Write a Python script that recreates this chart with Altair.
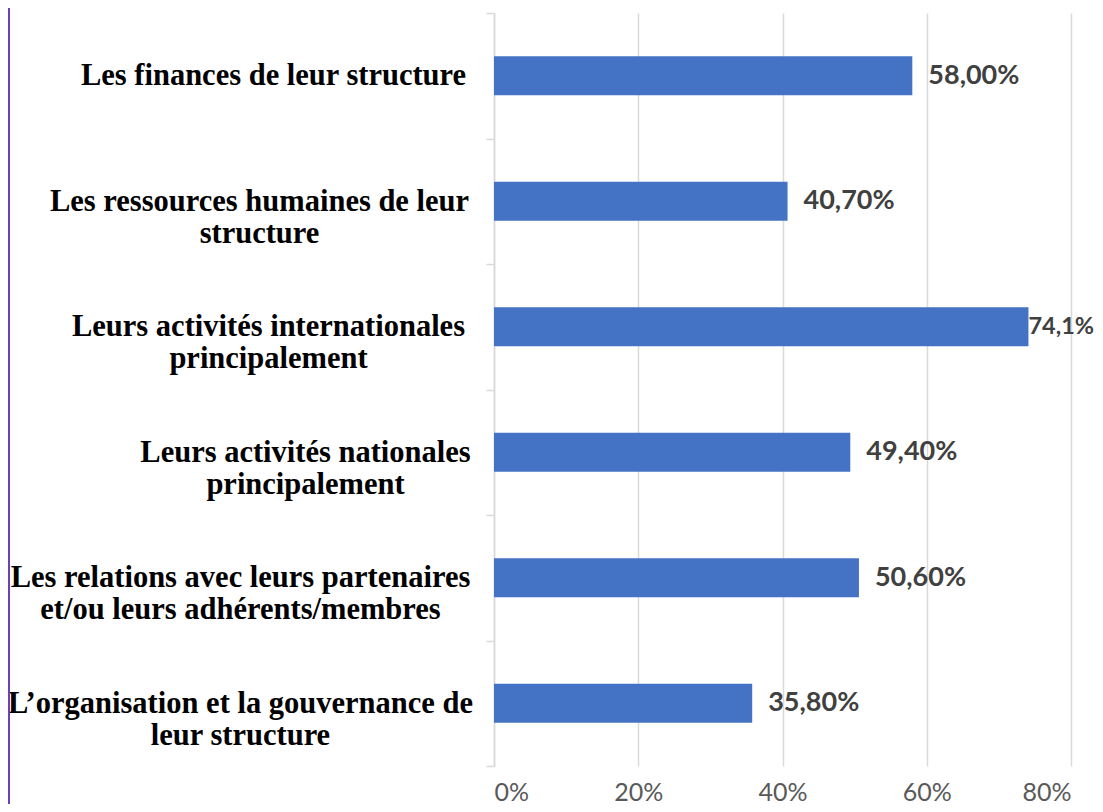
import altair as alt
import pandas as pd

categories = [
    "Les finances de leur structure",
    "Les ressources humaines de leur|structure",
    "Leurs activités internationales|principalement",
    "Leurs activités nationales|principalement",
    "Les relations avec leurs partenaires|et/ou leurs adhérents/membres",
    "L’organisation et la gouvernance de|leur structure",
]
values = [58.0, 40.7, 74.1, 49.4, 50.6, 35.8]
value_labels = ["58,00%", "40,70%", "74,1%", "49,40%", "50,60%", "35,80%"]
x_ticks = [0, 20, 40, 60, 80]

# label block centre offsets (styling only)
label_pad = [213, 227, 218, 181, 246, 246]

df = pd.DataFrame({"cat": categories, "val": values, "lab": value_labels})

pad_cond = [
    {"test": f"datum.value === {c!r}".replace("'", '"'), "value": p}
    for c, p in zip(categories, label_pad)
]

y_enc = alt.Y(
    "cat:N",
    sort=categories,
    scale=alt.Scale(paddingInner=0, paddingOuter=0),
    axis=alt.Axis(
        title=None,
        labelExpr="split(datum.label, '|')",
        labelFont="Liberation Serif",
        labelFontWeight="bold",
        labelFontSize=30.5,
        labelColor="#000000",
        labelAlign="center",
        labelBaseline="middle",
        labelLineHeight=32,
        labelPadding={"condition": pad_cond, "value": 220},
        labelLimit=0,
        tickBand="extent",
        tickColor="#d9d9d9",
        tickSize=8,
        tickWidth=1.5,
        domainColor="#d9d9d9",
        domainWidth=1.5,
        grid=False,
    ),
)

x_enc = alt.X(
    "val:Q",
    scale=alt.Scale(domain=[0, 80], nice=False),
    axis=alt.Axis(
        title=None,
        values=x_ticks,
        labelExpr="datum.value + '%'",
        labelFont="Lato",
        labelFontSize=25,
        labelColor="#595959",
        labelBaseline="bottom",
        labelPadding=39,
        domain=False,
        ticks=False,
        grid=True,
        gridColor="#d9d9d9",
        gridWidth=1.5,
    ),
)

base = alt.Chart(df)

bars = base.mark_bar(size=39, color="#4472C4").encode(x=x_enc, y=y_enc)

text_style = dict(
    align="left",
    baseline="middle",
    font="Lato",
    fontWeight="bold",
    fontSize=27,
    color="#404040",
)

labels = base.transform_filter("datum.val < 70").mark_text(dx=16, **text_style).encode(
    x="val:Q", y=alt.Y("cat:N", sort=categories), text="lab:N"
)
labels_top = (
    base.transform_filter("datum.val >= 70")
    .mark_text(dx=0, **{**text_style, "fontSize": 23.5})
    .encode(x="val:Q", y=alt.Y("cat:N", sort=categories), text="lab:N")
)

border = alt.Chart(df).mark_rule(color="#7040B0", strokeWidth=2).encode(
    x=alt.value(-485), y=alt.value(-5), y2=alt.value(795)
)

chart = (
    alt.layer(bars, labels, labels_top, border)
    .properties(
        width=577,
        height=753,
        padding={"left": 486, "top": 5, "right": 24, "bottom": 38},
        autosize=alt.AutoSizeParams(type="none"),
        background="white",
    )
    .configure_view(stroke=None)
)

chart.save("out.html", embed_options={"renderer": "svg", "actions": False})
